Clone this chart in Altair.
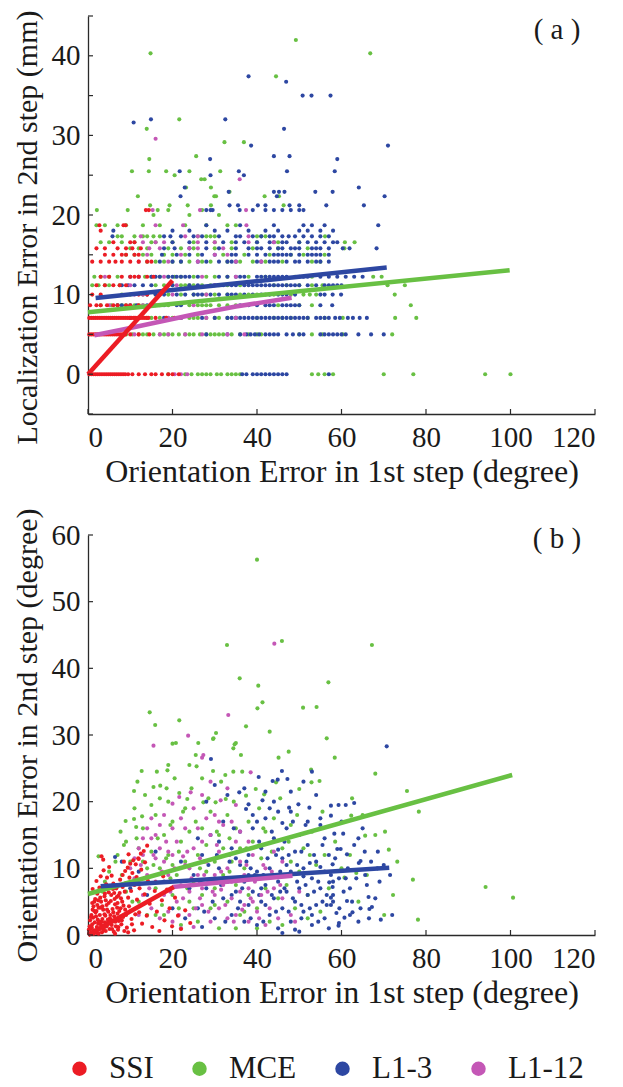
import altair as alt
import pandas as pd

FONT = "Liberation Serif"
SERIES = ["SSI", "MCE", "L1-3", "L1-12"]
COLORS = ["#ec1c24", "#68c043", "#2d47a2", "#c457b6"]
DRAW_ORDER = ["MCE", "L1-3", "L1-12", "SSI"]

X_TICKS = [0, 20, 40, 60, 80, 100, 120]
A_Y_TICKS = [-5, 0, 5, 10, 15, 20, 25, 30, 35, 40, 45]
A_Y_LABELS = [0, 10, 20, 30, 40]
B_Y_TICKS = [0, 10, 20, 30, 40, 50, 60]
X_TITLE = "Orientation Error in 1st step (degree)"
A_Y_TITLE = "Localization Error in 2nd step (mm)"
B_Y_TITLE = "Orientation Error in 2nd step (degree)"

# ---------------- panel (a): rows of (localization error level, [orientation errors])
A_SSI = [
    (0, [0.3, 0.8, 1.3, 1.8, 2.3, 2.8, 3.3, 3.8, 4.3, 4.8, 5.3, 5.8, 6.3, 6.8, 7.3, 7.8, 8.3, 8.8, 9.5, 10.5, 12, 13.5, 15, 16, 17.5, 19, 20, 21.5]),
    (5, [0.3, 0.8, 1.3, 1.8, 2.3, 2.8, 3.3, 3.8, 4.3, 4.8, 5.3, 5.8, 6.3, 6.8, 7.3, 7.8, 8.3, 8.8, 10, 12, 14.5]),
    (7.07, [0.3, 0.8, 1.3, 1.8, 2.3, 2.8, 3.3, 3.8, 4.3, 4.8, 5.3, 5.8, 6.3, 6.8, 7.3, 7.8, 8.3, 8.8, 9.3, 9.8, 10.3, 10.8, 11.3, 11.8, 12.3, 12.8, 13.3, 13.8, 14.3, 16, 18.5, 20.5]),
    (8.66, [0.5, 2, 3, 4.5, 6, 7, 9, 10, 12]),
    (10, [1, 3, 12, 14, 17]),
    (11.18, [2, 4, 6, 7.5, 9]),
    (12.25, [3, 5, 8, 10, 11, 12, 14, 15.5]),
    (14.14, [1, 3, 5, 6.5, 8, 10, 12, 14, 15]),
    (15, [4, 6, 8, 9, 11, 12]),
    (15.81, [2, 4, 7, 9, 10.5, 12.5]),
    (16.58, [6, 10, 11]),
    (18.03, [3]),
    (18.71, [2.7, 8.4, 8.9]),
    (20.62, [13.7, 14.4]),
]
A_MCE = [
    (0, [19, 23, 24.5, 26, 27, 28, 29, 30.5, 31.5, 33, 34, 35, 36, 53, 54.5, 56, 58, 70, 77, 94, 100]),
    (5, [9, 10.5, 12, 13, 14, 15.5, 17, 18, 19, 20, 21.5, 23, 24, 25, 26.5, 28, 29, 30, 31, 32, 34, 36, 38, 40, 41, 50, 53, 55.5, 60.3, 72]),
    (7.07, [14, 15, 17, 18.5, 20, 22, 24, 25, 26, 28, 30, 31, 33, 35, 40, 44, 46, 48, 52, 56, 60.3, 72.7, 77.7]),
    (8.66, [3, 5.5, 7, 8, 9, 11, 12, 13, 15, 17, 19, 24, 26, 27, 28, 29, 31, 33, 35, 45, 50, 53, 76.4]),
    (10, [8, 10, 13, 16, 19, 22, 25, 28, 30, 33, 36, 38, 40, 42, 44, 48, 51, 52.5, 54, 72.6]),
    (11.18, [1, 2.5, 4, 5, 7.5, 16, 18, 20, 22, 23, 24, 25, 27, 29, 31, 33, 36, 44, 47, 50, 53, 55.5, 70.9, 75]),
    (12.25, [1.5, 3, 5, 7, 13.5, 15, 17, 19, 20.5, 22, 25, 28, 30, 33, 38, 42, 49, 53, 67.5, 69.5]),
    (14.14, [14, 16, 18, 20, 22, 24, 27, 29, 33, 36, 39, 42, 46, 53, 55]),
    (15, [9, 11, 13, 15, 18, 20, 23, 26, 32, 37, 43, 48, 51, 56]),
    (15.81, [10, 12, 14, 19, 22, 25, 30, 34, 39, 45, 52, 60.7]),
    (16.58, [3, 5, 8, 11, 15, 16, 20, 25, 30, 34, 40, 45, 50, 60.8, 63.1]),
    (17.32, [7, 8, 11, 13, 14, 15.5, 17, 26, 28, 29, 30, 40, 41, 42, 56.1]),
    (18.71, [2, 4, 7, 9, 13, 17, 23, 28, 33, 35]),
    (20, [15.5, 24, 31]),
    (20.62, [2.1, 9.4, 16.5, 19, 27]),
    (21.21, [14.7, 19.3, 23.6, 29.1, 46.3]),
    (22.36, [11.8, 29.9, 30.3, 41.8, 45.2]),
    (22.91, [33.5]),
    (23.45, [23.2, 29.1]),
    (24.49, [26.8, 27.6]),
    (25, [20.5]),
    (25.5, [10.4, 14.4, 18.5, 24, 31.3]),
    (27.02, [14.5]),
    (27.39, [25.6]),
    (29.15, [32.3, 36.9]),
    (30.82, [13.9]),
    (32.02, [21.6]),
    (37.42, [44.5]),
    (40.31, [14.8, 66.8]),
    (41.98, [49.2]),
]
A_L13 = [
    (0, [36.5, 37.5, 39, 40, 41, 42, 43, 44, 45, 46, 47, 57]),
    (5, [28, 33, 36, 37.5, 38.5, 39.5, 40.5, 42, 43, 44, 45, 47, 48.5, 50, 51, 55, 56, 57, 58, 59, 60, 61, 64, 67, 70]),
    (7.07, [10, 12, 18, 22, 27, 30, 33, 34, 35, 36, 37, 38, 39, 40, 41, 42, 43, 44, 45, 46, 47, 48, 49, 50, 51, 52, 54, 55, 56, 57, 58.5, 59.6, 61.5, 62.7, 64.3, 66]),
    (8.66, [7, 8, 10, 11.5, 14, 18, 21, 22, 36, 38, 40, 42, 43, 44, 46, 47, 48, 49, 50, 55, 57.8]),
    (10, [14, 16, 18, 21, 23, 25, 26, 27, 29, 31, 33, 34, 35, 37, 39, 41, 43, 45, 46, 47, 49, 55, 56, 57.9, 59.9]),
    (11.18, [8, 9.5, 11, 13, 15, 20, 24, 26, 30, 32, 34, 35, 37, 38, 39, 40, 41, 42, 43, 44, 45, 46, 47, 48, 49, 50, 52, 54, 56, 57, 58, 59, 60]),
    (12.25, [10, 12, 15, 16, 17, 19, 20, 21, 22, 23, 24, 26, 31, 33, 35, 36, 37, 40, 41, 42, 43, 44, 45, 46, 47, 50, 51, 52, 55, 57, 59, 61, 63, 65]),
    (14.14, [17, 20, 22, 26, 28, 31, 33, 34, 35, 40, 41, 43, 44, 45, 47, 49, 50, 52, 54, 55, 57]),
    (15, [17.5, 21, 24, 27, 30, 34, 35, 38, 40, 42, 44, 45, 46, 47, 48, 50, 52, 53, 54, 55, 57]),
    (15.81, [18, 20.5, 24, 28, 31, 35, 38, 40, 41, 43, 45, 46, 48, 49, 50, 53, 54, 55, 57, 60.3, 61.9, 68.3]),
    (16.58, [20, 24, 28, 32, 35, 37, 40, 43, 44, 46, 47, 50, 52, 54, 56, 58, 59]),
    (17.32, [5.8, 18, 19.5, 22, 25, 27, 31, 35, 36, 39, 41, 43, 44, 46, 47.5, 49, 51, 53, 55, 57]),
    (18.03, [6, 20, 24, 30, 33, 38, 42, 45, 50, 52, 55, 58]),
    (18.71, [28, 36, 44, 51, 53, 56, 68.7]),
    (20.62, [28, 29, 29.5, 35.9, 39, 42, 44, 46, 48, 50, 51]),
    (21.21, [33.5, 35.5, 40.2, 42, 47.7, 50, 56.4, 65.3]),
    (22.36, [21.9, 44.7, 70.2]),
    (22.91, [33.3, 44, 45.2, 46.5, 53.8, 57.9]),
    (23.45, [22.9, 64.1]),
    (25, [29, 36.9]),
    (25.5, [21.7, 35.7, 47.1, 58.4]),
    (27.02, [28.9, 59]),
    (27.39, [44, 47.7]),
    (28.72, [38.6, 71]),
    (30.82, [46.4]),
    (31.62, [10.8]),
    (32.02, [14.9, 32.5]),
    (35, [50.8, 52.9, 57.4]),
    (36.74, [46.9]),
    (37.42, [38]),
]
A_L112 = [
    (0, [20.5, 22, 23.5]),
    (5, [11, 17, 19, 23, 27, 33, 37]),
    (7.07, [11, 19, 22, 28, 35]),
    (8.66, [5, 13, 16, 25]),
    (10, [11, 13, 20, 28]),
    (11.18, [10, 21, 30]),
    (12.25, [4, 12, 18, 27, 35]),
    (14.14, [12, 19, 26, 35, 41]),
    (15, [14, 22, 30, 33]),
    (15.81, [14.5, 17, 24, 26, 32]),
    (16.58, [13, 16, 18, 26, 30, 38, 44]),
    (17.32, [12.5, 23, 26, 38]),
    (18.71, [16, 22.5, 37.5]),
    (20.62, [15.3, 26.5, 37.4]),
    (24.49, [35.9]),
    (29.58, [16]),
]

# fitted lines, panel (a)
A_FIT_SSI = [(0, 0), (20, 11.76)]
A_FIT_MCE = [(0, 7.77), (99.8, 13.06)]
A_FIT_L13 = [(1.8, 9.57), (70.7, 13.4)]
A_FIT_L112 = [(1.5, 4.9), (10, 5.8), (25, 7.5), (35, 8.5), (48.2, 9.6)]

# ---------------- panel (b): (orientation error 1st step, orientation error 2nd step)
B_SSI = [
    (0.3, 0.2), (0.6, 0.9), (0.9, 0.4), (1.0, 1.6), (1.2, 2.6), (1.4, 0.7), (1.6, 1.9), (1.8, 3.4), (2.0, 0.3), (2.1, 1.2),
    (2.3, 2.3), (2.5, 4.1), (2.6, 0.8), (2.8, 3.0), (3.0, 1.6), (3.1, 5.0), (3.3, 0.4), (3.4, 2.4), (3.6, 3.8), (3.8, 1.1),
    (3.9, 5.8), (4.1, 2.9), (4.2, 0.6), (4.4, 4.5), (4.6, 1.8), (4.8, 3.5), (4.9, 6.4), (5.1, 0.9), (5.2, 2.5), (5.4, 5.1),
    (5.6, 1.5), (5.8, 3.9), (5.9, 6.9), (6.1, 0.5), (6.2, 2.8), (6.4, 4.6), (6.6, 1.3), (6.8, 5.7), (7.0, 3.2), (7.1, 0.8),
    (7.3, 2.1), (7.5, 6.3), (7.7, 4.0), (7.9, 1.6), (8.1, 5.0), (8.3, 2.7), (8.6, 0.6), (8.8, 3.8), (0.8, 3.0), (1.3, 4.3),
    (1.7, 5.4), (2.2, 6.2), (2.7, 7.1), (3.5, 6.8), (4.3, 7.6), (1.1, 6.9), (2.0, 8.1), (3.0, 8.8), (3.7, 9.7), (4.5, 8.6),
    (3.2, 11.8), (3.6, 11.3), (5.0, 10.2), (5.6, 8.9), (6.0, 7.7), (0.5, 2.2), (1.5, 3.6), (2.4, 5.2), (4.0, 1.9), (6.9, 2.4),
    (0.4, 1.3), (0.7, 2.7), (1.1, 3.8), (1.3, 0.2), (1.5, 5.0), (1.9, 2.8), (2.2, 4.5), (2.4, 1.7), (2.9, 5.6), (3.2, 2.0),
    (3.4, 4.3), (3.7, 0.7), (3.9, 3.1), (4.2, 5.2), (4.4, 1.3), (4.7, 2.3), (4.9, 4.8), (5.3, 3.0), (5.5, 6.0), (5.7, 0.9),
    (6.0, 3.4), (6.3, 5.4), (6.5, 2.0), (6.7, 7.0), (7.0, 4.8), (7.2, 1.2), (7.4, 3.6), (7.8, 5.5), (8.0, 2.2), (8.4, 4.4),
    (8.7, 6.5), (9.0, 3.0), (9.5, 5.6), (0.2, 0.8), (0.9, 1.1), (1.6, 0.5), (2.6, 2.0), (3.5, 1.4), (4.5, 3.8), (5.5, 2.2),
    (6.9, 4.1), (2.0, 3.6), (1.0, 4.8), (3.0, 4.1), (4.0, 6.2), (5.0, 7.3), (6.2, 6.3), (7.2, 5.9), (8.2, 7.2), (2.5, 0.2),
    (6.4, 0.2), (9.5, 0.4), (10.4, 1.6), (11.2, 3.1),
    (7.0, 7.4), (7.6, 8.3), (8.2, 9.0), (8.8, 9.6), (9.4, 10.1), (10.0, 10.7), (10.7, 11.2), (11.3, 10.6), (11.9, 11.5), (12.5, 12.2),
    (13.2, 12.6), (14.0, 13.4), (9.0, 7.8), (9.8, 8.6), (10.5, 9.3), (11.5, 8.7), (12.6, 9.8), (13.5, 10.9), (8.5, 11.0), (9.6, 12.1),
    (12.0, 11.4), (10.2, 6.6), (11.0, 7.5), (12.2, 7.0),
    (9.2, 1.1), (9.7, 4.3), (10.3, 2.4), (10.9, 0.7), (11.6, 5.3), (12.1, 3.4), (12.8, 1.7), (13.4, 6.1), (13.9, 2.9), (14.6, 4.7),
    (15.2, 1.2), (15.8, 6.6), (16.3, 3.5), (16.9, 0.6), (17.5, 5.2), (18.1, 2.2), (18.7, 6.8), (19.3, 4.0), (19.9, 1.3), (20.6, 5.6),
    (21.3, 2.9), (22.0, 0.9), (23.0, 3.7), (24.2, 1.8), (14.2, 8.1), (16.0, 7.9), (17.8, 8.8),
]
B_MCE = [
    (40.0, 56.3), (32.9, 43.5), (45.9, 44.1), (35.9, 38.5), (40.3, 37.4), (41.3, 34.9), (40.1, 34.0), (50.9, 34.1), (14.6, 33.4), (15.9, 31.5),
    (21.6, 32.2), (20.0, 28.7), (20.8, 28.8), (26.1, 28.8), (29.7, 29.5), (30.3, 30.3), (37.4, 31.3), (34.4, 28.0), (35.0, 28.8), (36.2, 27.0),
    (45.1, 26.6), (67.2, 43.5), (56.9, 37.9), (54.1, 34.2), (56.5, 29.5), (58.4, 26.6), (68.0, 24.2), (75.5, 21.6), (78.3, 18.5), (70.3, 15.5),
    (65.6, 14.9), (71.2, 12.8), (73.2, 11.0), (76.9, 8.3), (94.1, 7.2), (100.6, 5.6), (72.2, 6.0), (70.1, 3.0), (78.1, 2.3), (62.3, 17.9),
    (63.5, 9.3), (60.7, 8.6), (25.5, 27.0), (29.6, 29.4), (34.7, 28.6), (12.7, 24.6), (16.3, 24.5), (19.0, 25.5), (18.8, 24.7), (15.5, 22.2),
    (11.7, 23.0), (10.9, 21.6), (25.7, 25.3), (29.6, 24.6), (34.4, 24.5), (44.5, 22.9), (54.8, 23.1), (52.8, 24.8), (17.1, 22.4), (18.6, 22.0),
    (21.6, 21.3), (23.5, 20.4), (27.3, 19.9), (30.2, 19.9), (32.6, 20.4), (37.4, 20.9), (39.7, 21.9), (41.7, 21.1), (50.0, 21.9), (52.9, 22.9),
    (8.9, 17.1), (10.9, 17.4), (12.8, 17.8), (7.7, 15.5), (11.4, 16.2), (2.5, 11.8), (4.0, 8.0), (5.0, 9.5), (6.0, 7.0), (7.0, 12.0),
    (8.0, 9.0), (9.0, 6.5), (9.0, 14.0), (10.0, 11.0), (11.0, 8.0), (12.0, 13.0), (12.0, 5.0), (13.0, 16.0), (14.0, 10.0), (14.0, 3.0),
    (15.0, 12.5), (16.0, 7.0), (16.0, 18.0), (17.0, 10.0), (18.0, 15.0), (18.0, 3.0), (19.0, 12.0), (20.0, 6.0), (20.0, 17.0), (21.0, 9.0),
    (22.0, 14.0), (22.0, 1.5), (23.0, 11.0), (23.0, 19.0), (24.0, 5.0), (24.0, 15.5), (25.0, 8.0), (26.0, 12.0), (26.0, 2.0), (27.0, 16.0),
    (27.0, 6.0), (28.0, 9.5), (28.0, 13.5), (29.0, 4.0), (29.0, 18.5), (30.0, 11.0), (30.0, 7.0), (31.0, 15.0), (31.0, 1.0), (32.0, 9.0),
    (32.0, 13.0), (33.0, 5.0), (33.0, 18.0), (34.0, 11.0), (35.0, 7.5), (35.0, 16.0), (36.0, 3.0), (36.0, 13.0), (37.0, 10.0), (38.0, 6.0),
    (38.0, 17.0), (39.0, 8.5), (39.0, 14.0), (40.0, 4.0), (41.0, 11.5), (42.0, 7.0), (42.0, 15.5), (43.0, 2.0), (44.0, 9.0), (44.0, 17.5),
    (45.0, 5.5), (46.0, 13.0), (47.0, 7.5), (48.0, 11.0), (48.0, 16.5), (49.0, 4.0), (50.0, 9.5), (51.0, 13.0), (52.0, 6.0), (53.0, 15.5),
    (54.0, 10.5), (55.0, 3.5), (56.0, 12.0), (57.0, 7.0), (62.0, 12.0), (64.0, 5.0), (66.0, 9.0), (68.0, 15.0), (13.5, 21.0), (20.5, 23.5),
    (24.5, 22.0), (31.5, 23.0), (36.5, 24.5), (47.5, 27.5), (43.0, 30.5), (27.5, 11.0), (33.5, 14.5), (19.5, 8.5), (21.5, 4.0), (17.0, 20.5),
    (3.5, 6.5), (6.5, 11.0), (8.5, 13.5), (10.5, 5.0), (11.5, 14.5), (13.5, 8.5), (15.5, 10.5), (16.5, 14.5), (17.5, 4.5), (18.5, 11.5),
    (19.5, 16.5), (21.5, 12.5), (22.5, 18.5), (23.5, 7.0), (25.5, 17.0), (26.5, 10.0), (28.5, 20.5), (29.5, 8.0), (30.5, 15.5), (32.5, 24.0),
    (33.5, 9.5), (34.5, 20.0), (37.5, 13.0), (40.5, 19.0), (41.5, 16.0), (43.5, 12.5), (45.5, 20.5), (47.5, 14.0), (49.5, 18.0), (52.5, 12.0),
    (55.5, 18.5), (58.5, 14.0), (60.0, 10.0), (62.5, 20.5), (65.0, 18.0), (24.0, 25.5), (27.0, 23.5), (15.0, 19.5), (11.0, 19.0), (19.0, 20.0),
    (37.0, 3.5), (46.0, 1.5), (52.0, 2.5), (30.0, 4.5), (35.0, 1.0), (40.0, 1.0), (25.0, 4.0), (20.0, 10.5), (16.0, 3.0), (13.0, 11.0),
]
B_L13 = [
    (29.1, 26.4), (40.4, 23.7), (43.7, 23.1), (44.9, 23.3), (45.9, 24.6), (47.2, 23.4), (37.4, 18.9), (38.0, 19.6), (35.8, 21.4), (41.3, 20.2),
    (47.6, 19.1), (49.8, 19.6), (52.4, 19.1), (57.5, 19.4), (61.0, 19.5), (59.3, 19.5), (57.5, 17.9), (58.3, 15.2), (60.4, 15.2), (59.0, 12.9),
    (59.8, 12.9), (68.6, 12.5), (61.3, 12.1), (64.5, 11.1), (64.1, 10.8), (57.9, 10.6), (65.6, 9.0), (71.5, 9.0), (59.4, 8.5), (61.0, 8.5),
    (57.1, 7.9), (57.9, 7.2), (58.0, 6.0), (57.5, 5.6), (58.0, 5.0), (57.5, 4.5), (66.4, 5.7), (61.3, 5.1), (67.2, 4.2), (66.6, 3.9),
    (62.6, 3.4), (62.0, 3.0), (60.7, 2.6), (58.8, 3.3), (59.4, 1.8), (59.3, 1.4), (69.3, 2.3), (70.7, 28.3),
    (25.0, 9.0), (26.0, 4.0), (27.0, 12.0), (28.0, 7.0), (29.0, 15.0), (30.0, 2.5), (31.0, 10.0), (32.0, 5.5), (32.0, 17.0), (33.0, 8.0),
    (34.0, 13.0), (34.0, 3.0), (35.0, 6.5), (36.0, 10.5), (36.0, 15.5), (37.0, 2.0), (37.0, 8.0), (38.0, 12.0), (38.0, 4.5), (39.0, 6.5),
    (39.0, 16.0), (40.0, 9.5), (40.0, 1.5), (41.0, 5.0), (41.0, 13.0), (42.0, 7.5), (42.0, 17.5), (43.0, 3.0), (43.0, 10.0), (44.0, 5.5),
    (44.0, 14.5), (45.0, 8.0), (45.0, 1.0), (46.0, 11.5), (46.0, 4.0), (47.0, 6.5), (47.0, 16.0), (48.0, 9.5), (48.0, 2.0), (49.0, 12.5),
    (49.0, 5.0), (50.0, 7.0), (50.0, 15.0), (51.0, 3.5), (51.0, 10.0), (52.0, 6.0), (52.0, 13.5), (53.0, 8.5), (53.0, 1.5), (54.0, 4.5),
    (54.0, 11.0), (55.0, 7.0), (55.0, 16.5), (56.0, 2.5), (56.0, 9.5), (57.0, 12.0), (50.0, 0.5), (46.0, 0.3), (35.0, 11.5), (31.0, 14.0),
    (28.0, 20.0), (33.0, 21.0), (30.0, 22.5), (37.0, 22.0), (42.0, 21.5), (54.0, 21.0), (51.0, 23.0), (55.0, 17.5), (45.0, 18.5), (40.0, 17.0),
    (43.0, 19.0), (26.0, 14.5), (24.0, 7.0), (22.0, 11.0), (20.0, 4.0), (18.0, 8.0), (16.0, 12.5), (14.0, 6.0), (12.0, 9.5), (10.0, 7.0),
    (8.0, 11.0), (6.4, 11.7), (23.0, 2.5), (27.0, 1.2), (62.0, 7.0), (63.0, 13.5), (64.0, 2.0), (65.0, 16.0), (66.0, 7.5), (67.0, 11.0),
    (68.0, 5.5), (69.0, 8.0), (70.0, 10.5), (72.0, 3.0), (63.0, 19.8), (53.0, 24.5), (48.0, 21.5), (44.5, 12.0), (47.5, 3.5), (52.5, 10.8),
    (55.5, 5.0), (41.5, 9.0), (38.5, 10.0), (49.5, 8.0), (53.5, 6.5), (45.5, 6.5), (50.5, 4.5), (56.5, 6.0),
    (35.5, 4.0), (36.5, 7.0), (37.5, 11.0), (38.5, 2.5), (39.5, 9.0), (40.5, 6.0), (40.5, 14.0), (41.5, 2.0), (42.5, 11.5), (43.5, 6.0),
    (43.5, 15.5), (44.5, 3.5), (45.5, 9.5), (46.5, 7.0), (46.5, 14.0), (47.5, 12.0), (48.5, 5.5), (48.5, 17.0), (49.5, 10.5), (50.5, 2.5),
    (50.5, 12.5), (51.5, 7.5), (51.5, 16.5), (52.5, 4.0), (53.5, 12.0), (54.5, 8.0), (54.5, 2.0), (55.5, 13.5), (56.5, 4.5), (57.5, 9.0),
    (58.5, 11.5), (59.5, 4.0), (60.5, 6.5), (61.5, 10.0), (62.5, 5.0), (63.5, 8.5), (64.5, 4.0), (65.5, 12.5), (66.5, 2.5), (68.5, 10.0),
    (33.5, 11.0), (32.5, 2.0), (34.5, 16.0), (31.5, 7.5), (30.5, 12.0), (29.5, 5.0), (28.5, 10.5), (27.5, 3.5), (26.5, 8.0), (44.0, 20.0),
    (48.0, 18.5), (52.0, 17.0), (56.0, 14.5), (60.0, 17.0), (46.0, 16.8), (39.0, 18.0), (36.0, 5.0), (41.0, 7.0), (49.0, 0.8), (53.0, 3.0),
    (58.0, 8.0), (64.0, 14.5), (42.0, 4.5), (47.0, 10.5), (51.0, 8.8), (55.0, 10.2), (45.0, 12.8), (38.0, 9.0), (34.0, 6.0), (57.0, 1.0),
]
B_L112 = [
    (15.5, 28.4), (23.7, 29.9), (27.3, 27.0), (27.0, 26.6), (33.2, 33.0), (44.1, 43.7), (20.0, 19.7), (21.6, 20.7), (24.3, 21.4), (31.4, 20.2),
    (38.5, 24.4), (10.0, 10.0), (11.0, 11.5), (12.0, 13.0), (13.0, 14.5), (14.0, 16.0), (15.0, 17.5), (16.0, 15.0), (17.0, 13.0), (18.0, 11.0),
    (14.0, 9.0), (16.0, 8.0), (18.0, 6.0), (19.0, 9.0), (20.0, 12.0), (21.0, 5.0), (22.0, 8.0), (23.0, 10.5), (24.0, 3.0), (24.0, 6.5),
    (25.0, 13.0), (26.0, 9.0), (27.0, 4.5), (27.0, 7.0), (28.0, 11.0), (29.0, 2.0), (29.0, 15.0), (30.0, 6.0), (30.0, 9.0), (31.0, 4.0),
    (31.0, 12.5), (32.0, 7.5), (33.0, 2.5), (33.0, 10.0), (34.0, 5.5), (34.0, 8.0), (35.0, 14.0), (35.0, 3.0), (36.0, 6.5), (36.0, 11.0),
    (37.0, 4.5), (37.0, 9.0), (38.0, 2.0), (38.0, 7.0), (39.0, 12.0), (39.0, 5.0), (40.0, 3.5), (40.0, 8.5), (41.0, 6.0), (42.0, 10.0),
    (42.0, 1.5), (43.0, 4.0), (44.0, 7.0), (45.0, 2.5), (46.0, 5.5), (47.0, 9.0), (48.0, 3.0), (20.0, 2.0), (22.0, 1.0), (25.0, 1.2),
    (15.0, 4.0), (17.0, 2.5), (19.0, 3.5), (26.0, 16.0), (28.0, 17.5), (30.0, 18.0), (32.0, 16.5), (25.0, 19.0), (34.0, 17.0), (21.0, 14.0),
    (23.0, 16.0), (36.0, 15.5), (38.0, 14.0), (13.0, 6.0), (12.0, 3.0), (16.0, 11.5), (33.0, 22.0), (35.0, 19.5), (27.0, 21.0), (29.0, 23.0),
    (18.0, 18.0), (20.0, 16.0), (44.0, 12.5), (46.0, 11.0), (50.0, 6.5), (49.0, 2.0), (26.5, 5.5), (28.5, 8.0), (31.5, 6.8), (22.5, 11.8),
    (14.5, 7.0), (15.5, 12.0), (17.5, 9.5), (18.5, 14.0), (19.5, 6.5), (20.5, 10.0), (21.5, 3.0), (22.5, 5.5), (23.5, 12.5), (24.5, 8.5),
    (25.5, 4.0), (26.5, 11.5), (27.5, 9.0), (28.5, 3.5), (29.5, 6.5), (30.5, 13.5), (31.5, 9.5), (32.5, 4.5), (33.5, 12.0), (34.5, 2.0),
    (35.5, 8.5), (36.5, 3.8), (37.5, 10.5), (38.5, 5.5), (39.5, 8.0), (40.5, 2.5), (41.5, 10.5), (42.5, 6.5), (43.5, 9.5), (45.5, 7.5),
    (24.0, 10.0), (27.0, 14.0), (31.0, 17.0), (22.0, 17.5), (19.0, 12.5), (17.0, 16.5), (15.0, 14.5), (13.0, 12.0), (11.0, 8.5), (12.5, 10.5),
]

# fitted lines, panel (b)
B_FIT_SSI = [(0, 0), (20.3, 7.2)]
B_FIT_MCE = [(0, 6.15), (100.4, 24.0)]
B_FIT_L13 = [(3, 7.3), (71.3, 10.1)]
B_FIT_L112 = [(20, 7.2), (48.4, 8.9)]


def rows_df(rows_by_series):
    recs = []
    for name in DRAW_ORDER:
        for y, xs in rows_by_series[name]:
            for x in xs:
                recs.append({"x": x, "y": y, "s": name})
    return pd.DataFrame(recs)


def pairs_df(pairs_by_series):
    recs = []
    for name in DRAW_ORDER:
        for x, y in pairs_by_series[name]:
            recs.append({"x": x, "y": y, "s": name})
    return pd.DataFrame(recs)


A_POINTS = rows_df({"SSI": A_SSI, "MCE": A_MCE, "L1-3": A_L13, "L1-12": A_L112})
B_POINTS = pairs_df({"SSI": B_SSI, "MCE": B_MCE, "L1-3": B_L13, "L1-12": B_L112})
A_LINES = pairs_df({"SSI": A_FIT_SSI, "MCE": A_FIT_MCE, "L1-3": A_FIT_L13, "L1-12": A_FIT_L112})
B_LINES = pairs_df({"SSI": B_FIT_SSI, "MCE": B_FIT_MCE, "L1-3": B_FIT_L13, "L1-12": B_FIT_L112})

AXIS_COLOR = "#2a2a2a"
PLOT_W = 507
A_H = 398
B_H = 400

color_scale = alt.Scale(domain=SERIES, range=COLORS)


def make_legend():
    return alt.Legend(
        orient="none", legendX=-24, legendY=1037, direction="horizontal", title=None,
        symbolType="circle", symbolSize=210, symbolStrokeWidth=0, symbolOpacity=1,
        labelFont=FONT, labelFontSize=31, labelColor="#1a1a1a", labelOffset=14,
        columnPadding=30, padding=0,
    )


def panel(points, lines, ydom, ytick_vals, ylabel_vals, ytitle, tag, tag_y, height, title_y=None):
    xs = alt.Scale(domain=[0, 120], nice=False, zero=False)
    ys = alt.Scale(domain=ydom, nice=False, zero=False)
    axis_common = dict(
        grid=False, ticks=False, domainColor=AXIS_COLOR, domainWidth=1.3,
        labelFont=FONT, labelFontSize=29, labelColor="#1a1a1a",
        titleFont=FONT, titleFontWeight="normal", titleColor="#1a1a1a",
    )
    x_axis = alt.Axis(values=X_TICKS, title=X_TITLE, labelPadding=9, titlePadding=4, titleFontSize=32, **axis_common)
    y_kwargs = dict(values=ylabel_vals, title=ytitle, labelPadding=8, titlePadding=9, titleFontSize=30, **axis_common)
    if title_y is not None:
        y_kwargs["titleY"] = title_y
    y_axis = alt.Axis(**y_kwargs)

    pts = alt.Chart(points).mark_circle(size=17, opacity=1).encode(
        x=alt.X("x:Q", scale=xs, axis=x_axis),
        y=alt.Y("y:Q", scale=ys, axis=y_axis),
        color=alt.Color("s:N", scale=color_scale, legend=make_legend()),
    )
    fits = alt.Chart(lines).mark_line(strokeWidth=4.5, strokeCap="butt").encode(
        x=alt.X("x:Q", scale=xs),
        y=alt.Y("y:Q", scale=ys),
        color=alt.Color("s:N", scale=color_scale, legend=make_legend()),
        detail="s:N",
    )
    xt = alt.Chart(pd.DataFrame({"v": X_TICKS})).mark_rule(color=AXIS_COLOR, strokeWidth=1.2).encode(
        x=alt.X("v:Q", scale=xs), y=alt.value(height), y2=alt.value(height - 5)
    )
    yt = alt.Chart(pd.DataFrame({"v": ytick_vals})).mark_rule(color=AXIS_COLOR, strokeWidth=1.2).encode(
        y=alt.Y("v:Q", scale=ys), x=alt.value(0), x2=alt.value(5)
    )
    label = alt.Chart(pd.DataFrame({"t": [tag]})).mark_text(
        font=FONT, fontSize=29, color="#1a1a1a", align="center", baseline="middle"
    ).encode(x=alt.datum(111), y=alt.datum(tag_y), text="t:N")
    return alt.layer(pts, fits, xt, yt, label).properties(width=PLOT_W, height=height)


top = panel(A_POINTS, A_LINES, [-5, 45], A_Y_TICKS, A_Y_LABELS, A_Y_TITLE, "( a )", 43.2, A_H, title_y=211)
bottom = panel(B_POINTS, B_LINES, [0, 60], B_Y_TICKS, B_Y_TICKS, B_Y_TITLE, "( b )", 59.4, B_H)

chart = alt.vconcat(top, bottom, spacing=21).properties(
    padding={"left": 12, "top": 9, "right": 5, "bottom": 0},
    background="white",
).configure_view(stroke=None)

chart.save("out.html", embed_options={"renderer": "svg", "actions": False})
